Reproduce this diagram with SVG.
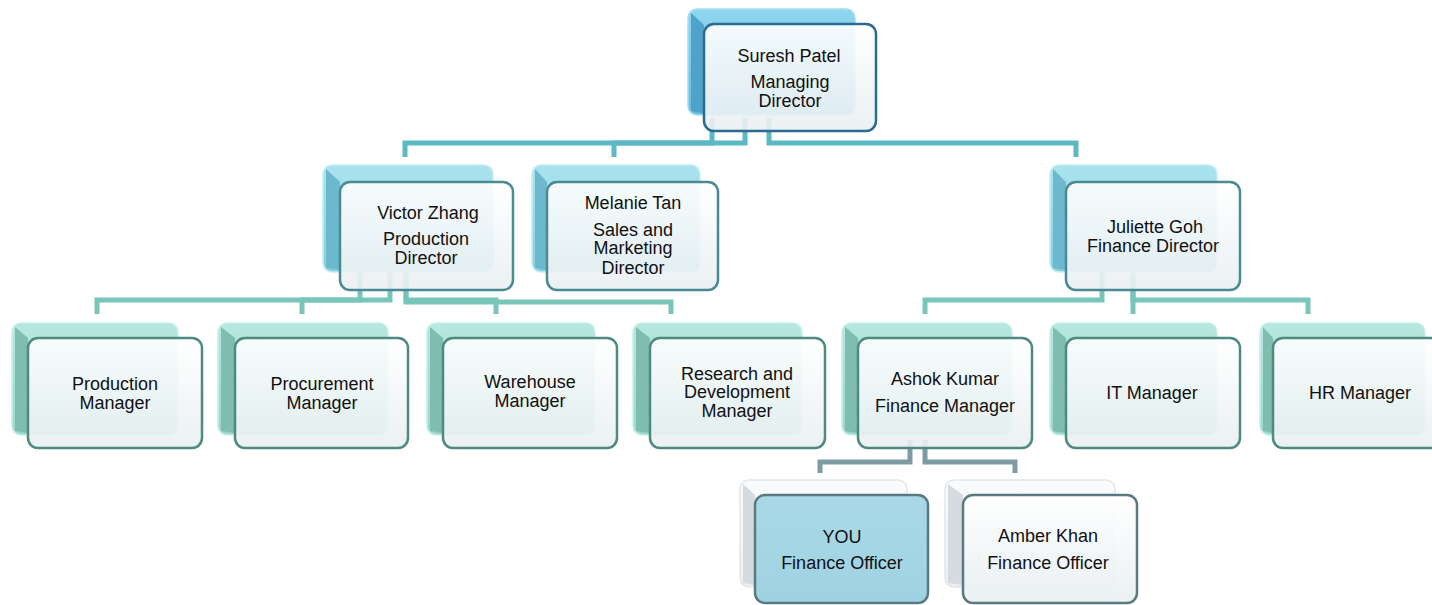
<svg xmlns="http://www.w3.org/2000/svg" width="1432" height="605" viewBox="0 0 1432 605">
<defs>
<linearGradient id="gFront" x1="0" y1="0" x2="0" y2="1">
<stop offset="0" stop-color="#ffffff"/>
<stop offset="1" stop-color="#e9eff2"/>
</linearGradient>
<linearGradient id="gYou" x1="0" y1="0" x2="0" y2="1">
<stop offset="0" stop-color="#a9d9e7"/>
<stop offset="1" stop-color="#9fd2e1"/>
</linearGradient>
<linearGradient id="gB1" x1="0" y1="0" x2="0" y2="1">
<stop offset="0" stop-color="#8fd6ef"/>
<stop offset="1" stop-color="#64bbe0"/>
</linearGradient>
<linearGradient id="gB2" x1="0" y1="0" x2="0" y2="1">
<stop offset="0" stop-color="#aae3ee"/>
<stop offset="1" stop-color="#86cfe0"/>
</linearGradient>
<linearGradient id="gB3" x1="0" y1="0" x2="0" y2="1">
<stop offset="0" stop-color="#b6e8df"/>
<stop offset="1" stop-color="#98d8cc"/>
</linearGradient>
<linearGradient id="gB4" x1="0" y1="0" x2="0" y2="1">
<stop offset="0" stop-color="#fafbfc"/>
<stop offset="1" stop-color="#eceff2"/>
</linearGradient>
</defs>
<style>
.conn{fill:none;stroke-width:5;stroke-linejoin:miter;stroke-linecap:butt}
.c1{stroke:#5cb8c4}
.c2{stroke:#78c6ba}
.c3{stroke:#7d9ba3}
.b1{fill:url(#gB1);stroke:#a8def2;stroke-width:1.5}
.b2{fill:url(#gB2);stroke:#c4eef4;stroke-width:1.5}
.b3{fill:url(#gB3);stroke:#c8f0ea;stroke-width:1.5}
.b4{fill:url(#gB4);stroke:#e3e7ea;stroke-width:1.5}
.l1{fill:#4fa3c9}
.l2{fill:#6cb8cc}
.l3{fill:#7fbdaf}
.l4{fill:#d6dbe0}
.f{fill:url(#gFront);fill-opacity:0.9;stroke-width:2.5}
.f1{stroke:#2d6a8f}
.f2{stroke:#4a8a92}
.f3{stroke:#4e8a80}
.f4{stroke:#5a7980}
.fy{fill:url(#gYou);stroke:#5a7980;stroke-width:2.5}
.t{font-family:"Liberation Sans",Arial,sans-serif;font-size:18px;fill:#111;text-anchor:middle}
</style>

<g id="connectors">
<path class="conn c1" d="M712,118 V143 H405 V157"/>
<path class="conn c1" d="M745,118 V143 H614 V157"/>
<path class="conn c1" d="M769,118 V143 H1076 V157"/>
<path class="conn c2" d="M360,272 V300 H97 V314"/>
<path class="conn c2" d="M390,272 V300 H302 V314"/>
<path class="conn c2" d="M406,272 V300 H496 V314"/>
<path class="conn c2" d="M406,272 V302 H671 V314"/>
<path class="conn c2" d="M1102,272 V300 H925 V314"/>
<path class="conn c2" d="M1133,272 V314"/>
<path class="conn c2" d="M1133,272 V300 H1308 V314"/>
<path class="conn c3" d="M910,440 V462 H820 V473"/>
<path class="conn c3" d="M925,440 V462 H1015 V473"/>
</g>

<g id="node-suresh">
<rect class="b1" x="688" y="9" width="167" height="106" rx="9"/>
<path class="l1" d="M691,13 L704,25 V113 L691,111 Z"/>
<rect class="f f1" x="704" y="24" width="172" height="107" rx="10"/>
<text class="t" x="789" y="62">Suresh Patel</text>
<text class="t" x="790" y="88">Managing</text>
<text class="t" x="790" y="107">Director</text>
</g>

<g id="node-victor">
<rect class="b2" x="323" y="165" width="170" height="107" rx="9"/>
<path class="l2" d="M326,169 L340,182 V270 L326,268 Z"/>
<rect class="f f2" x="340" y="182" width="173" height="108" rx="10"/>
<text class="t" x="428" y="219">Victor Zhang</text>
<text class="t" x="426" y="245">Production</text>
<text class="t" x="426" y="264">Director</text>
</g>

<g id="node-melanie">
<rect class="b2" x="532" y="165" width="168" height="107" rx="9"/>
<path class="l2" d="M535,169 L547,182 V270 L535,268 Z"/>
<rect class="f f2" x="547" y="182" width="171" height="108" rx="10"/>
<text class="t" x="633" y="209">Melanie Tan</text>
<text class="t" x="633" y="236">Sales and</text>
<text class="t" x="633" y="254">Marketing</text>
<text class="t" x="633" y="274">Director</text>
</g>

<g id="node-juliette">
<rect class="b2" x="1050" y="165" width="167" height="107" rx="9"/>
<path class="l2" d="M1053,169 L1066,182 V270 L1053,268 Z"/>
<rect class="f f2" x="1066" y="182" width="174" height="108" rx="10"/>
<text class="t" x="1155" y="233">Juliette Goh</text>
<text class="t" x="1153" y="252">Finance Director</text>
</g>

<g id="node-production">
<rect class="b3" x="12" y="323" width="166" height="112" rx="9"/>
<path class="l3" d="M15,327 L28,338 V433 L15,431 Z"/>
<rect class="f f3" x="28" y="338" width="174" height="110" rx="10"/>
<text class="t" x="115" y="390">Production</text>
<text class="t" x="115" y="409">Manager</text>
</g>

<g id="node-procurement">
<rect class="b3" x="218" y="323" width="170" height="112" rx="9"/>
<path class="l3" d="M221,327 L235,338 V433 L221,431 Z"/>
<rect class="f f3" x="235" y="338" width="173" height="110" rx="10"/>
<text class="t" x="322" y="390">Procurement</text>
<text class="t" x="322" y="409">Manager</text>
</g>

<g id="node-warehouse">
<rect class="b3" x="427" y="323" width="168" height="112" rx="9"/>
<path class="l3" d="M430,327 L443,338 V433 L430,431 Z"/>
<rect class="f f3" x="443" y="338" width="174" height="110" rx="10"/>
<text class="t" x="530" y="388">Warehouse</text>
<text class="t" x="530" y="407">Manager</text>
</g>

<g id="node-research">
<rect class="b3" x="633" y="323" width="169" height="112" rx="9"/>
<path class="l3" d="M636,327 L650,338 V433 L636,431 Z"/>
<rect class="f f3" x="650" y="338" width="175" height="110" rx="10"/>
<text class="t" x="737" y="380">Research and</text>
<text class="t" x="737" y="398">Development</text>
<text class="t" x="737" y="417">Manager</text>
</g>

<g id="node-ashok">
<rect class="b3" x="842" y="323" width="170" height="112" rx="9"/>
<path class="l3" d="M845,327 L858,338 V433 L845,431 Z"/>
<rect class="f f3" x="858" y="338" width="174" height="110" rx="10"/>
<text class="t" x="945" y="385">Ashok Kumar</text>
<text class="t" x="945" y="412">Finance Manager</text>
</g>

<g id="node-it">
<rect class="b3" x="1050" y="323" width="167" height="112" rx="9"/>
<path class="l3" d="M1053,327 L1066,338 V433 L1053,431 Z"/>
<rect class="f f3" x="1066" y="338" width="174" height="110" rx="10"/>
<text class="t" x="1152" y="399">IT Manager</text>
</g>

<g id="node-hr">
<rect class="b3" x="1260" y="323" width="165" height="112" rx="9"/>
<path class="l3" d="M1263,327 L1273,338 V433 L1263,431 Z"/>
<rect class="f f3" x="1273" y="338" width="174" height="110" rx="10"/>
<text class="t" x="1360" y="399">HR Manager</text>
</g>

<g id="node-you">
<rect class="b4" x="740" y="480" width="167" height="107" rx="9"/>
<path class="l4" d="M743,484 L755,495 V585 L743,583 Z"/>
<rect class="fy" x="755" y="495" width="173" height="108" rx="10"/>
<text class="t" x="842" y="543">YOU</text>
<text class="t" x="842" y="569">Finance Officer</text>
</g>

<g id="node-amber">
<rect class="b4" x="945" y="480" width="170" height="107" rx="9"/>
<path class="l4" d="M948,484 L963,495 V585 L948,583 Z"/>
<rect class="f f4" x="963" y="495" width="174" height="108" rx="10"/>
<text class="t" x="1048" y="542">Amber Khan</text>
<text class="t" x="1048" y="569">Finance Officer</text>
</g>
</svg>
